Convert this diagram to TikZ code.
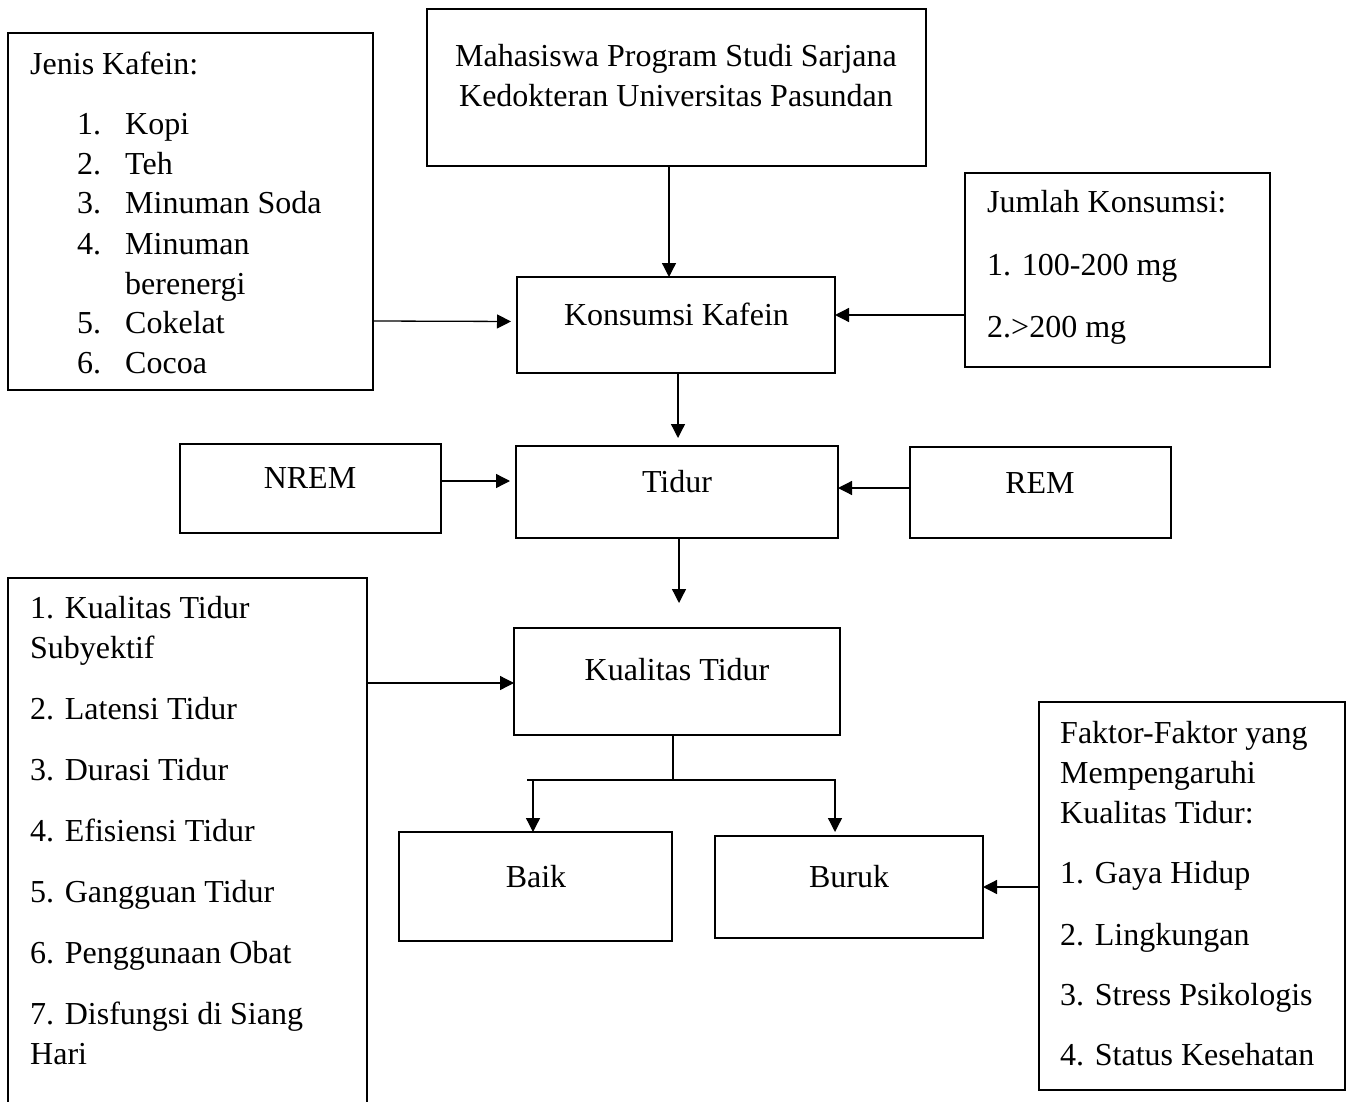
\documentclass[tikz,border=0pt]{standalone}
\usepackage{fontspec}
\setmainfont{Liberation Serif}
\usetikzlibrary{arrows.meta}
\newcommand\fsz{\fontsize{32}{40}\selectfont}
\begin{document}
\begin{tikzpicture}[x=1pt,y=-1pt,
  box/.style={draw, line width=2.5pt, inner sep=0pt, outer sep=0pt},
  txt/.style={inner sep=0pt, anchor=base west, font=\fsz},
  ctxt/.style={inner sep=0pt, anchor=base, font=\fsz},
  arr/.style={line width=1.3pt, -{Triangle[length=14pt,width=14pt]}},
  ln/.style={line width=1.3pt}]
\clip (0,0) rectangle (1354,1102);
\fill[white] (0,0) rectangle (1354,1102);

% boxes
\node[box, minimum width=365pt, minimum height=357pt] (jenis) at (190.5,211.5) {};
\node[box, minimum width=499pt, minimum height=157pt] (maha) at (676.5,87.5) {};
\node[box, minimum width=305pt, minimum height=194pt] (jumlah) at (1117.5,270) {};
\node[box, minimum width=318pt, minimum height=96pt] (konsumsi) at (676,325) {};
\node[box, minimum width=261pt, minimum height=89pt] (nrem) at (310.5,488.5) {};
\node[box, minimum width=322pt, minimum height=92pt] (tidur) at (677,492) {};
\node[box, minimum width=261pt, minimum height=91pt] (rem) at (1040.5,492.5) {};
\node[box, minimum width=359pt, minimum height=532pt] (list) at (187.5,844) {};
\node[box, minimum width=326pt, minimum height=107pt] (kual) at (677,681.5) {};
\node[box, minimum width=273pt, minimum height=109pt] (baik) at (535.5,886.5) {};
\node[box, minimum width=268pt, minimum height=102pt] (buruk) at (849,887) {};
\node[box, minimum width=306pt, minimum height=388pt] (faktor) at (1192,896) {};

% texts: Jenis Kafein
\node[txt] (j0) at (30,75) {Jenis Kafein:};
\node[txt] (j1) at (77,135) {\makebox[48pt][l]{1.}Kopi};
\node[txt] (j2) at (77,175) {\makebox[48pt][l]{2.}Teh};
\node[txt] (j3) at (77,214) {\makebox[48pt][l]{3.}Minuman Soda};
\node[txt] (j4) at (77,254) {\makebox[48pt][l]{4.}Minuman};
\node[txt] (j5) at (125,294) {berenergi};
\node[txt] (j6) at (77,333) {\makebox[48pt][l]{5.}Cokelat};
\node[txt] (j7) at (77,373) {\makebox[48pt][l]{6.}Cocoa};

% Mahasiswa
\node[ctxt] (m1) at (676,67) {Mahasiswa Program Studi Sarjana};
\node[ctxt] (m2) at (676,107) {Kedokteran Universitas Pasundan};

% Jumlah
\node[txt] (k0) at (987,213) {Jumlah Konsumsi:};
\node[txt] (k1) at (987,275) {1. 100-200 mg};
\node[txt] (k2) at (987,337) {2.>200 mg};

% single labels
\node[ctxt] (tk) at (676.5,325) {Konsumsi Kafein};
\node[ctxt] (tn) at (310,488) {NREM};
\node[ctxt] (tt) at (677,492) {Tidur};
\node[ctxt] (tr) at (1040,493) {REM};
\node[ctxt] (tq) at (677,680) {Kualitas Tidur};
\node[ctxt] (tb) at (536,887) {Baik};
\node[ctxt] (tu) at (849,887) {Buruk};

% left list
\node[txt] (l1) at (30,618) {1. Kualitas Tidur};
\node[txt] (l1b) at (30,658) {Subyektif};
\node[txt] (l2) at (30,719) {2. Latensi Tidur};
\node[txt] (l3) at (30,780) {3. Durasi Tidur};
\node[txt] (l4) at (30,841) {4. Efisiensi Tidur};
\node[txt] (l5) at (30,902) {5. Gangguan Tidur};
\node[txt] (l6) at (30,963) {6. Penggunaan Obat};
\node[txt] (l7) at (30,1024) {7. Disfungsi di Siang};
\node[txt] (l7b) at (30,1064) {Hari};

% Faktor
\node[txt] (f0) at (1060,743) {Faktor-Faktor yang};
\node[txt] (f0b) at (1060,783) {Mempengaruhi};
\node[txt] (f0c) at (1060,823) {Kualitas Tidur:};
\node[txt] (f1) at (1060,883) {1. Gaya Hidup};
\node[txt] (f2) at (1060,945) {2. Lingkungan};
\node[txt] (f3) at (1060,1005) {3. Stress Psikologis};
\node[txt] (f4) at (1060,1065) {4. Status Kesehatan};

% connectors
\draw[arr] ([xshift=-7.5pt]maha.south) -- ([xshift=-7pt]konsumsi.north);
\draw[arr, shorten >=6pt] ([yshift=-109.5pt]jenis.east) -- ([yshift=3.5pt]konsumsi.west);
\draw[arr] ([yshift=-45pt]jumlah.west) -- ([yshift=10pt]konsumsi.east);
\draw[arr, shorten >=8pt] ([xshift=2pt]konsumsi.south) -- ([xshift=1pt]tidur.north);
\draw[arr, shorten >=6pt] ([yshift=7.5pt]nrem.east) -- ([yshift=11pt]tidur.west);
\draw[arr] ([yshift=4.5pt]rem.west) -- ([yshift=4pt]tidur.east);
\coordinate (tend) at (679,603);
\draw[arr] ([xshift=2pt]tidur.south) -- (tend);
\draw[arr] ([yshift=161pt]list.east) -- ([yshift=-1.5pt]kual.west);
\coordinate (kj) at (673,780);
\coordinate (kl) at (527,780);
\coordinate (kr) at (836,780);
\coordinate (bl) at (533,780);
\coordinate (br) at (835,780);
\draw[ln] ([xshift=-4pt]kual.south) -- (kj);
\draw[ln] (kl) -- (kr);
\draw[arr] (bl) -- (bl |- baik.north);
\draw[arr, shorten >=4pt] (br) -- (br |- buruk.north);
\draw[arr] ([yshift=9pt]faktor.west) -- (buruk.east);
\end{tikzpicture}
\end{document}
